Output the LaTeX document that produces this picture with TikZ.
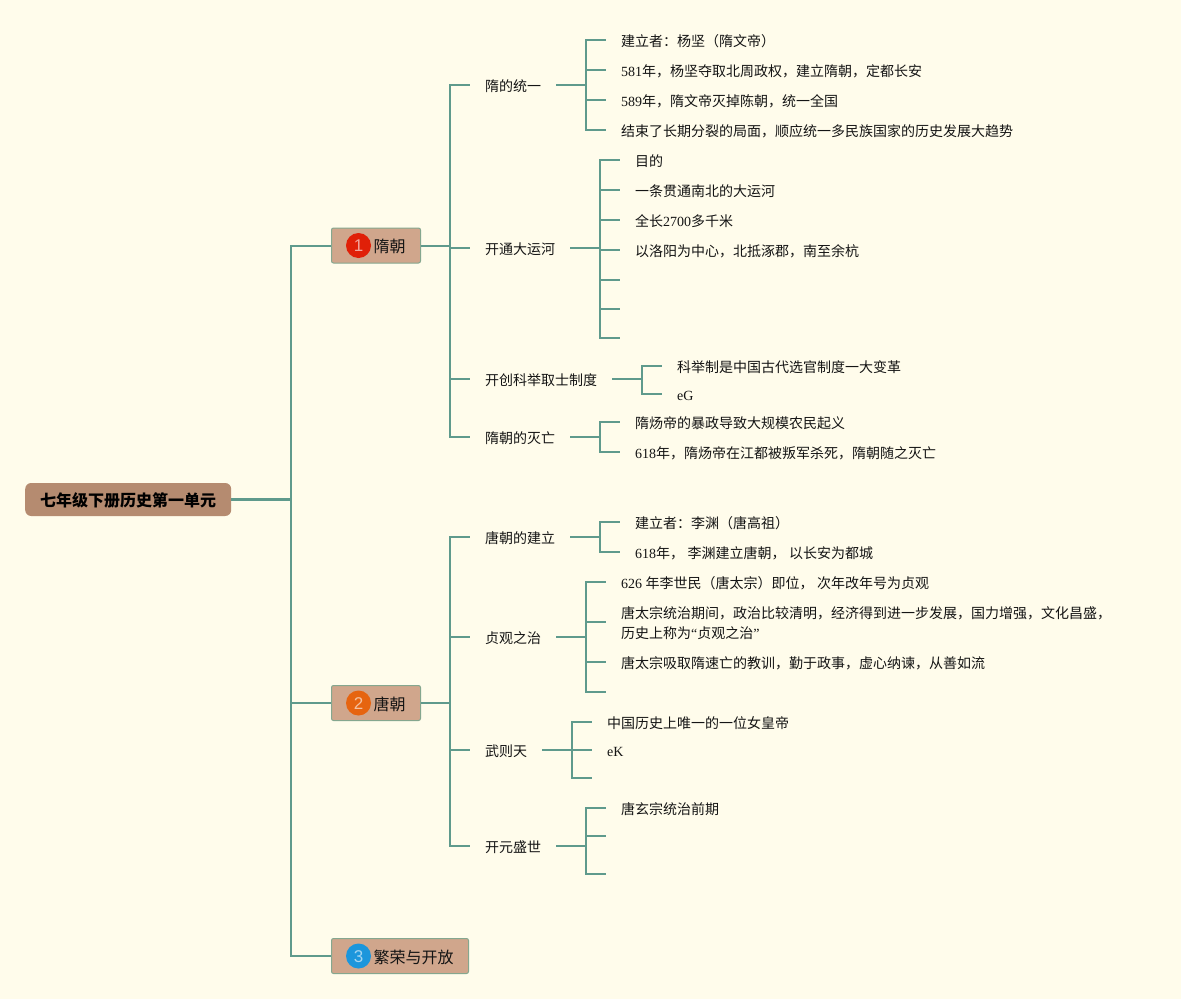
\documentclass[tikz,border=0pt]{standalone}
\usepackage{fontspec}
\setmainfont{Noto Sans CJK SC}
\newfontfamily\latfont{Liberation Serif}
\newfontfamily\badgefont{Liberation Sans}
\newcommand{\lat}[1]{{\latfont #1}}
\newcommand{\pad}[1]{\rule{#1}{0pt}}
\definecolor{bgc}{HTML}{FFFCEB}
\definecolor{linec}{HTML}{5F9A8C}
\definecolor{topicfill}{HTML}{D0A68C}
\definecolor{topicedge}{HTML}{85A78F}
\definecolor{rootfill}{HTML}{B58B70}
\definecolor{inkc}{HTML}{141414}
\tikzset{
  x=1pt,y=-1pt,
  link/.style={draw=linec,line width=2pt,line join=miter},
  rootnode/.style={draw=none,fill=rootfill,rounded corners=6pt,minimum height=33pt,minimum width=206pt,inner sep=0pt,anchor=west,text height=15pt,text depth=1pt,font=\fontsize{16}{20}\selectfont\bfseries,text=black},
  topic/.style={draw=topicedge,line width=1pt,fill=topicfill,rounded corners=2pt,minimum height=35pt,inner xsep=0pt,inner ysep=0pt,anchor=west,text height=15pt,text depth=1pt,font=\fontsize{16}{20}\selectfont,text=inkc},
  badge/.style={circle,minimum size=25pt,inner sep=0pt,text=white,text opacity=.6,text height=12pt,text depth=0pt,font=\badgefont\fontsize{17}{20}\selectfont},
  item/.style={anchor=west,inner xsep=15pt,inner ysep=0pt,text height=14pt,text depth=1pt,font=\fontsize{14}{20}\selectfont,text=inkc},
  wrapitem/.style={anchor=west,inner xsep=15pt,inner ysep=0pt,align=left,text height=33pt,text depth=0pt,font=\fontsize{14}{20}\selectfont,text=inkc},
}
\begin{document}
\begin{tikzpicture}
\useasboundingbox[fill=bgc] (0,0) rectangle (1181,999);
% root and topics
\node[rootnode] (root) at (25,499.5) {七年级下册历史第一单元};
\node[topic] (t1) at (331,245.5) {\pad{42pt}隋朝\pad{15pt}};
\node[topic] (t2) at (331,703) {\pad{42pt}唐朝\pad{15pt}};
\node[topic] (t3) at (331,956) {\pad{42pt}繁荣与开放\pad{15pt}};
\node[badge,fill={rgb,255:red,224;green,32;blue,8}] (b1) at (358.5,245.5) {1};
\node[badge,fill={rgb,255:red,230;green,100;blue,16}] (b2) at (358.5,703) {2};
\node[badge,fill={rgb,255:red,28;green,150;blue,220}] (b3) at (358.5,956) {3};
% second level
\node[item] (a1) at (470,85) {隋的统一};
\node[item] (a2) at (470,248) {开通大运河};
\node[item] (a3) at (470,379) {开创科举取士制度};
\node[item] (a4) at (470,437) {隋朝的灭亡};
\node[item] (c1) at (470,537) {唐朝的建立};
\node[item] (c2) at (470,637) {贞观之治};
\node[item] (c3) at (470,750) {武则天};
\node[item] (c4) at (470,846) {开元盛世};
% leaves
\node[item] (a11) at (606,40) {建立者：杨坚（隋文帝）};
\node[item] (a12) at (606,70) {\lat{581}年，杨坚夺取北周政权，建立隋朝，定都长安};
\node[item] (a13) at (606,100) {\lat{589}年，隋文帝灭掉陈朝，统一全国};
\node[item] (a14) at (606,130) {结束了长期分裂的局面，顺应统一多民族国家的历史发展大趋势};
\node[item] (a21) at (620,160) {目的};
\node[item] (a22) at (620,190) {一条贯通南北的大运河};
\node[item] (a23) at (620,220) {全长\lat{2700}多千米};
\node[item] (a24) at (620,250) {以洛阳为中心，北抵涿郡，南至余杭};
\coordinate (a25) at (620,280);
\coordinate (a26) at (620,309);
\coordinate (a27) at (620,338);
\node[item] (a31) at (662,366) {科举制是中国古代选官制度一大变革};
\node[item] (a32) at (662,394) {\lat{eG}};
\node[item] (a41) at (620,422) {隋炀帝的暴政导致大规模农民起义};
\node[item] (a42) at (620,452) {\lat{618}年，隋炀帝在江都被叛军杀死，隋朝随之灭亡};
\node[item] (c11) at (620,522) {建立者：李渊（唐高祖）};
\node[item] (c12) at (620,552) {\lat{618}年，\hspace{3.5pt}李渊建立唐朝，\hspace{3.5pt}以长安为都城};
\node[item] (c21) at (606,582) {\lat{626}\hspace{3.5pt}年李世民（唐太宗）即位，\hspace{3.5pt}次年改年号为贞观};
\node[wrapitem] (c22) at (606,622) {唐太宗统治期间，政治比较清明，经济得到进一步发展，国力增强，文化昌盛，\\历史上称为\lat{“}贞观之治\lat{”}};
\node[item] (c23) at (606,662) {唐太宗吸取隋速亡的教训，勤于政事，虚心纳谏，从善如流};
\coordinate (c24) at (606,692);
\node[item] (c31) at (592,722) {中国历史上唯一的一位女皇帝};
\node[item] (c32) at (592,750) {\lat{eK}};
\coordinate (c33) at (592,778);
\node[item] (c41) at (606,808) {唐玄宗统治前期};
\coordinate (c42) at (606,836);
\coordinate (c43) at (606,874);
% connectors
\foreach \t in {t1,t2,t3} \draw[link] (root.east) -- ++(60,0) |- (\t.west);
\draw[link,line width=2.6pt] (root.east) -- ++(60,0);
\foreach \s in {a1,a2,a3,a4} \draw[link] (t1.east) -- ++(29,0) |- (\s.west);
\foreach \s in {c1,c2,c3,c4} \draw[link] (t2.east) -- ++(29,0) |- (\s.west);
\foreach \l in {a11,a12,a13,a14} \draw[link] (a1.east) -- ++(30,0) |- (\l.west);
\foreach \l in {a21,a22,a23,a24} \draw[link] (a2.east) -- ++(30,0) |- (\l.west);
\foreach \l in {a25,a26,a27} \draw[link] (a2.east) -- ++(30,0) |- (\l);
\foreach \l in {a31,a32} \draw[link] (a3.east) -- ++(30,0) |- (\l.west);
\foreach \l in {a41,a42} \draw[link] (a4.east) -- ++(30,0) |- (\l.west);
\foreach \l in {c11,c12} \draw[link] (c1.east) -- ++(30,0) |- (\l.west);
\foreach \l in {c21,c22,c23} \draw[link] (c2.east) -- ++(30,0) |- (\l.west);
\draw[link] (c2.east) -- ++(30,0) |- (c24);
\foreach \l in {c31,c32} \draw[link] (c3.east) -- ++(30,0) |- (\l.west);
\draw[link] (c3.east) -- ++(30,0) |- (c33);
\draw[link] (c4.east) -- ++(30,0) |- (c41.west);
\draw[link] (c4.east) -- ++(30,0) |- (c42);
\draw[link] (c4.east) -- ++(30,0) |- (c43);
\end{tikzpicture}
\end{document}
